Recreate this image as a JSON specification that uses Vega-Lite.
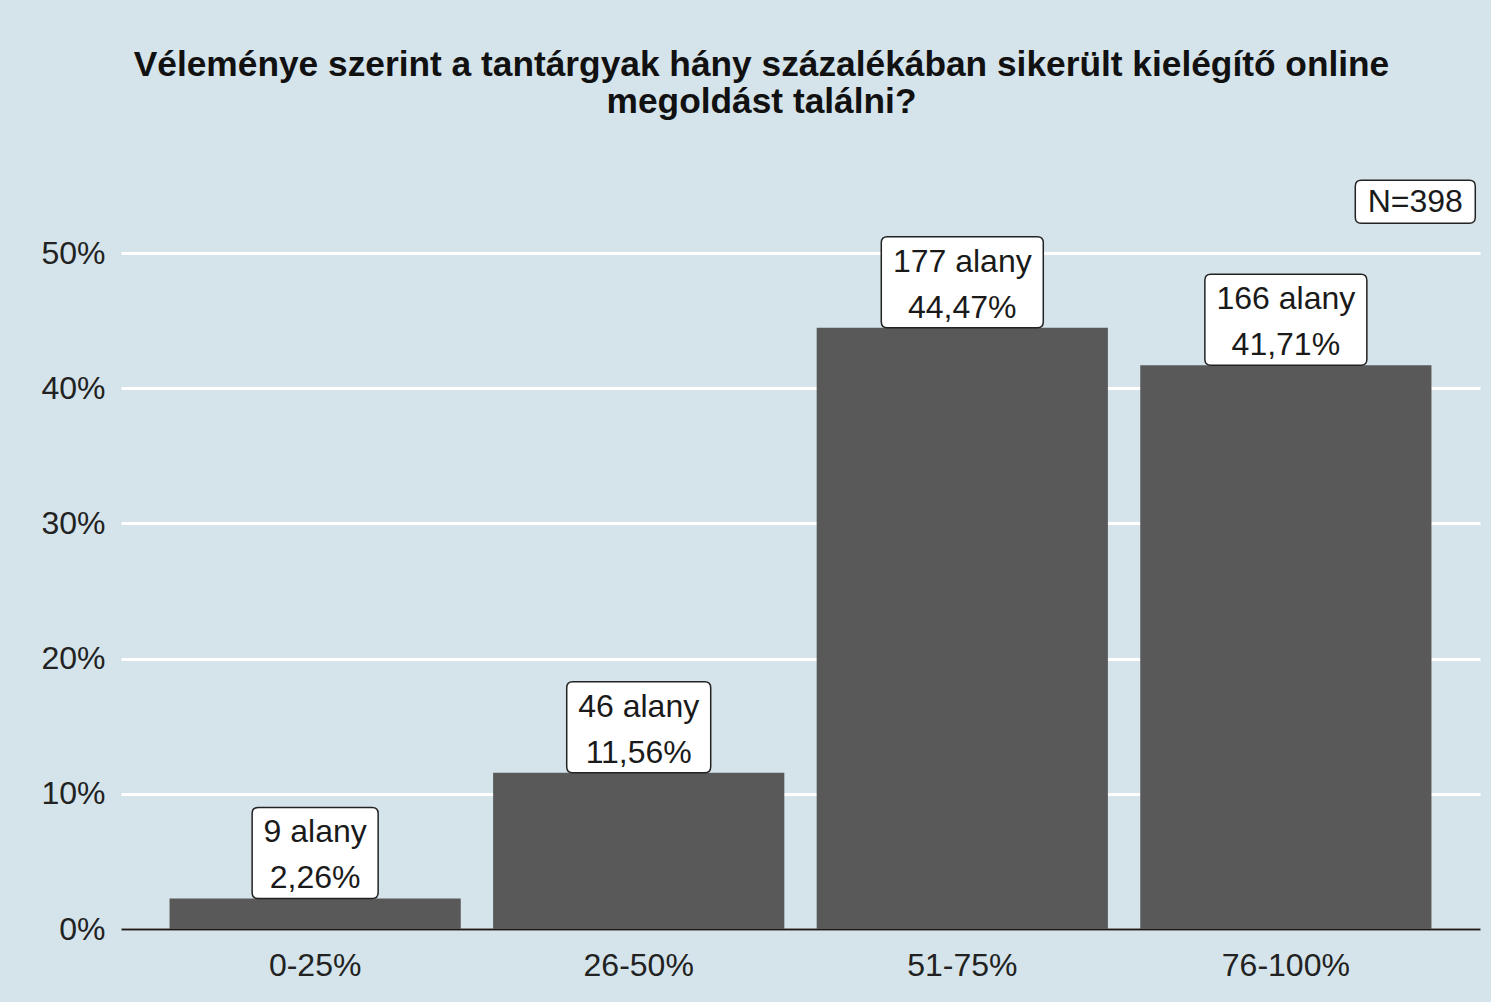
{
  "$schema": "https://vega.github.io/schema/vega-lite/v6.json",
  "autosize": {"type": "none"},
  "width": 1359,
  "height": 757,
  "padding": {"left": 121, "top": 172, "right": 11, "bottom": 73},
  "background": "#d5e4eb",
  "title": {
    "text": ["Véleménye szerint a tantárgyak hány százalékában sikerült kielégítő online", "megoldást találni?"],
    "font": "Liberation Sans",
    "fontSize": 35.3,
    "fontWeight": "bold",
    "color": "#111111",
    "anchor": "middle",
    "frame": "group",
    "dx": -39,
    "lineHeight": 37,
    "offset": 52
  },
  "config": {
    "view": {"stroke": null},
    "font": "Liberation Sans"
  },
  "datasets": {
    "bars": [
      {"kat": "0-25%", "n": 9, "pct": 0.0226, "label": ["9 alany", "2,26%"]},
      {"kat": "26-50%", "n": 46, "pct": 0.1156, "label": ["46 alany", "11,56%"]},
      {"kat": "51-75%", "n": 177, "pct": 0.4447, "label": ["177 alany", "44,47%"]},
      {"kat": "76-100%", "n": 166, "pct": 0.4171, "label": ["166 alany", "41,71%"]}
    ],
    "nlabel": [
      {"pos": 4.4, "y": 0.538, "text": "N=398"}
    ]
  },
  "resolve": {"scale": {"x": "independent"}},
  "layer": [
    {
      "data": {"name": "bars"},
      "encoding": {
        "x": {
          "field": "kat",
          "type": "nominal",
          "sort": null,
          "scale": {"paddingInner": 0.1, "paddingOuter": 0.15},
          "axis": {
            "title": null,
            "labelAngle": 0,
            "labelFont": "Liberation Sans",
            "labelFontSize": 32,
            "labelColor": "#222222",
            "labelPadding": 21,
            "ticks": false,
            "domainColor": "#1a1a1a",
            "domainWidth": 2,
            "grid": false
          }
        },
        "y": {
          "field": "pct",
          "type": "quantitative",
          "scale": {"domain": [0, 0.56], "nice": false},
          "axis": {
            "title": null,
            "format": ".0%",
            "values": [0, 0.1, 0.2, 0.3, 0.4, 0.5],
            "labelFont": "Liberation Sans",
            "labelFontSize": 32,
            "labelColor": "#222222",
            "labelPadding": 16,
            "ticks": false,
            "domain": false,
            "grid": true,
            "gridColor": "#ffffff",
            "gridWidth": 3
          }
        }
      },
      "layer": [
        {
          "mark": {"type": "bar", "color": "#595959"}
        },
        {
          "mark": {
            "type": "point",
            "filled": true,
            "fill": "#ffffff",
            "stroke": "#222222",
            "strokeWidth": 1.5,
            "size": 4,
            "opacity": 1
          },
          "encoding": {
            "shape": {
              "field": "kat",
              "type": "nominal",
              "legend": null,
              "scale": {
                "domain": ["0-25%", "26-50%", "51-75%", "76-100%"],
                "range": [
                  "M-57,-91 L57,-91 Q63,-91 63,-85 L63,-6 Q63,0 57,0 L-57,0 Q-63,0 -63,-6 L-63,-85 Q-63,-91 -57,-91 Z",
                  "M-66,-91 L66,-91 Q72,-91 72,-85 L72,-6 Q72,0 66,0 L-66,0 Q-72,0 -72,-6 L-72,-85 Q-72,-91 -66,-91 Z",
                  "M-75,-91 L75,-91 Q81,-91 81,-85 L81,-6 Q81,0 75,0 L-75,0 Q-81,0 -81,-6 L-81,-85 Q-81,-91 -75,-91 Z",
                  "M-75,-91 L75,-91 Q81,-91 81,-85 L81,-6 Q81,0 75,0 L-75,0 Q-81,0 -81,-6 L-81,-85 Q-81,-91 -75,-91 Z"
                ]
              }
            }
          }
        },
        {
          "mark": {
            "type": "text",
            "font": "Liberation Sans",
            "fontSize": 32,
            "color": "#1a1a1a",
            "baseline": "alphabetic",
            "align": "center",
            "lineHeight": 46,
            "dy": -56
          },
          "encoding": {
            "text": {"field": "label"}
          }
        }
      ]
    },
    {
      "data": {"name": "nlabel"},
      "encoding": {
        "x": {
          "field": "pos",
          "type": "quantitative",
          "scale": {"domain": [0.4, 4.6], "nice": false, "zero": false},
          "axis": null
        },
        "y": {"field": "y", "type": "quantitative"}
      },
      "layer": [
        {
          "mark": {
            "type": "point",
            "filled": true,
            "fill": "#ffffff",
            "stroke": "#222222",
            "strokeWidth": 1.5,
            "size": 4,
            "opacity": 1,
            "shape": "M-54,-21.5 L54,-21.5 Q60,-21.5 60,-15.5 L60,15.5 Q60,21.5 54,21.5 L-54,21.5 Q-60,21.5 -60,15.5 L-60,-15.5 Q-60,-21.5 -54,-21.5 Z"
          }
        },
        {
          "mark": {
            "type": "text",
            "font": "Liberation Sans",
            "fontSize": 32,
            "color": "#1a1a1a",
            "baseline": "middle",
            "align": "center"
          },
          "encoding": {"text": {"field": "text"}}
        }
      ]
    }
  ]
}
